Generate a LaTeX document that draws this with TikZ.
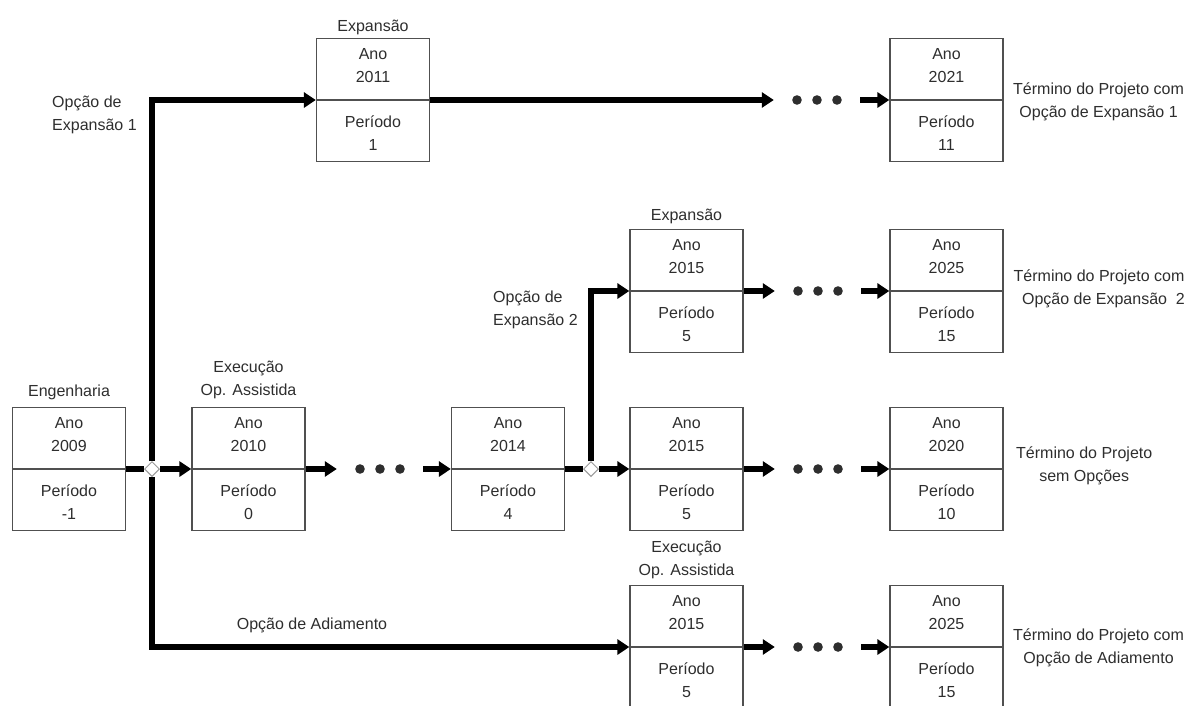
\documentclass[tikz,border=0pt]{standalone}
\usepackage{fontspec}
\setmainfont{Liberation Sans}
\usetikzlibrary{arrows.meta,shapes.geometric}
\definecolor{ink}{HTML}{2E2E2E}
\definecolor{frame}{HTML}{505050}

\tikzset{
  txt/.style={text=ink, font=\fontsize{16}{23}\selectfont, align=center, inner sep=0pt},
  ybox/.style={draw=frame, line width=1.3pt, minimum width=113pt, minimum height=123pt, inner sep=0pt},
  divider/.style={draw=frame, line width=1.3pt},
  flow/.style={line width=5.5pt, draw=black},
  flowarrow/.style={flow, -{Triangle[length=12pt,width=15pt]}},
  junction/.style={diamond, draw=black!40, fill=white, line width=1pt, minimum size=15pt, inner sep=0pt},
  dotgap/.style={minimum width=86pt, minimum height=12pt, inner sep=0pt,
    path picture={\foreach \dx in {-20,0,20}
      \fill[ink] ([xshift=\dx pt]path picture bounding box.center) circle (4.8pt);}},
}

% a period box: name, x, y of the divider, year, period
\newcommand\yearbox[5]{%
  \node[ybox] (#1) at (#2,#3) {};
  \draw[divider] (#1.west) -- (#1.east);
  \node[txt] (#1-top) at ([yshift=34.5pt]#1.center) {Ano\\#4};
  \node[txt] (#1-bot) at ([yshift=-33.5pt]#1.center) {Período\\#5};
}

\begin{document}
\begin{tikzpicture}[x=1pt,y=-1pt]
\useasboundingbox (0,0) rectangle (1195,705);
\clip (0,0) rectangle (1195,705);
\fill[white] (0,0) rectangle (1195,705);

% period boxes
\yearbox{eng}{69}{469}{2009}{-1}
\yearbox{exe}{248.5}{469}{2010}{0}
\yearbox{yb}{508}{469}{2014}{4}
\yearbox{yc}{686.5}{469}{2015}{5}
\yearbox{yd}{946.5}{469}{2020}{10}
\yearbox{xa}{373}{100}{2011}{1}
\yearbox{xaend}{946.5}{100}{2021}{11}
\yearbox{xb}{686.5}{291}{2015}{5}
\yearbox{xbend}{946.5}{291}{2025}{15}
\yearbox{adi}{686.5}{647}{2015}{5}
\yearbox{adiend}{946.5}{647}{2025}{15}

% headings above the boxes
\node[txt] (lbl-eng) at (69,392) {Engenharia};
\node[txt] (lbl-exe) at (248.5,380) {Execução\\Op. Assistida};
\node[txt] (lbl-xa) at (373,27) {Expansão};
\node[txt] (lbl-xb) at (686.5,216) {Expansão};
\node[txt] (lbl-adi) at (686.5,560) {Execução\\Op. Assistida};

% option labels
\node[txt, align=left, anchor=west] (opt1) at (52,115) {Opção de\\Expansão 1};
\node[txt, align=left, anchor=west] (opt2) at (493,310) {Opção de\\Expansão 2};
\node[txt] (opt3) at (312,625) {Opção de Adiamento};

% project endings
\node[txt, anchor=west] (end1) at (1013,102) {Término do Projeto com\\Opção de Expansão 1};
\node[txt, anchor=west] (end2) at (1013,289) {Término do Projeto com\\\ \ Opção de Expansão\ \ 2};
\node[txt, anchor=west] (end3) at (1016,466) {Término do Projeto\\sem Opções};
\node[txt, anchor=west] (end4) at (1013,648) {Término do Projeto com\\Opção de Adiamento};

% decision points
\node[junction] (j1) at (152,469) {};
\node[junction] (j2) at (591,469) {};

% elided periods
\node[dotgap] (g1) at (817,100) {};
\node[dotgap] (g2) at (818,291) {};
\node[dotgap] (g3) at (380,469) {};
\node[dotgap] (g4) at (818,469) {};
\node[dotgap] (g5) at (818,647) {};

% main line
\draw[flow] (eng.east) -- (j1.west);
\draw[flowarrow] (j1.east) -- (exe.west);
\draw[flowarrow] (exe.east) -- (g3.west);
\draw[flowarrow] (g3.east) -- (yb.west);
\draw[flow] (yb.east) -- (j2.west);
\draw[flowarrow] (j2.east) -- (yc.west);
\draw[flowarrow] (yc.east) -- (g4.west);
\draw[flowarrow] (g4.east) -- (yd.west);

% expansion option 1
\draw[flowarrow] (j1.north) |- (xa.west);
\draw[flowarrow] (xa.east) -- (g1.west);
\draw[flowarrow] (g1.east) -- (xaend.west);

% expansion option 2
\draw[flowarrow] (j2.north) |- (xb.west);
\draw[flowarrow] (xb.east) -- (g2.west);
\draw[flowarrow] (g2.east) -- (xbend.west);

% deferral option
\draw[flowarrow] (j1.south) |- (adi.west);
\draw[flowarrow] (adi.east) -- (g5.west);
\draw[flowarrow] (g5.east) -- (adiend.west);
\end{tikzpicture}
\end{document}
